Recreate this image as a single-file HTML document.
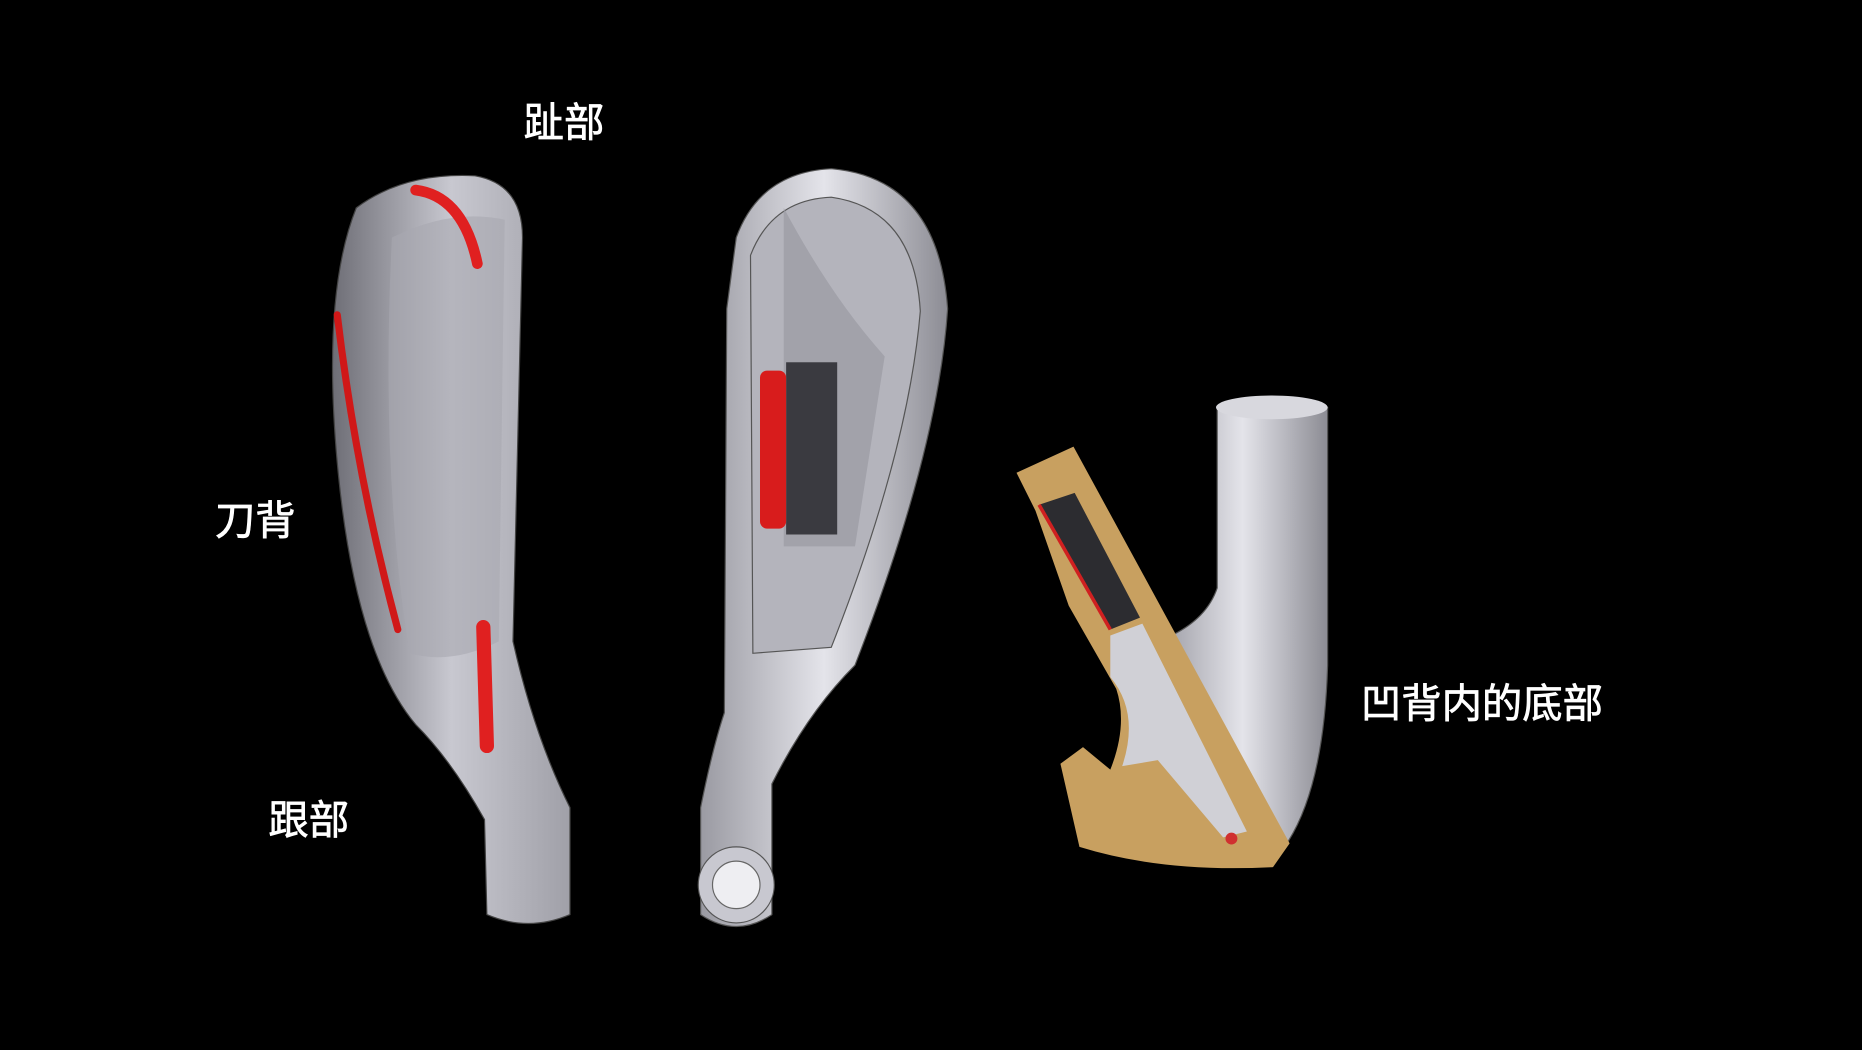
<!DOCTYPE html>
<html><head><meta charset="utf-8"><style>
html,body{margin:0;padding:0;background:#000;}
svg{display:block}
.t{font-family:"Liberation Sans","Noto Sans CJK SC",sans-serif;fill:#fff;font-size:34px;font-weight:normal;stroke:#fff;stroke-width:0.6px;}
</style></head><body>
<svg width="1862" height="1050" viewBox="0 0 1568 884" preserveAspectRatio="none">
<defs>
<linearGradient id="g1" x1="0" x2="1"><stop offset="0" stop-color="#6e6e76"/><stop offset=".5" stop-color="#c8c8d0"/><stop offset="1" stop-color="#a0a0a8"/></linearGradient>
<linearGradient id="g2" x1="0" x2="1"><stop offset="0" stop-color="#9a9aa2"/><stop offset=".5" stop-color="#e4e4ea"/><stop offset="1" stop-color="#8c8c94"/></linearGradient>
</defs>
<rect width="1568" height="884" fill="#000"/>
<path d="M300,175 Q340,145 400,148 Q440,155 440,200 L432,540 Q450,620 480,680 L480,770 Q445,785 410,770 L408,690 Q380,640 350,610 Q300,550 285,400 Q270,250 300,175 Z" fill="url(#g1)" stroke="#444" stroke-width="1"/>
<path d="M330,200 Q380,175 425,185 L420,540 Q380,560 345,550 Q320,400 330,200 Z" fill="#a8a8b0" opacity=".6"/>
<path d="M350,160 Q390,165 402,222" stroke="#e02020" stroke-width="9" fill="none" stroke-linecap="round"/>
<path d="M284,265 Q300,400 335,530" stroke="#d01818" stroke-width="6" fill="none" stroke-linecap="round"/>
<path d="M407,528 L410,628" stroke="#e02020" stroke-width="12" fill="none" stroke-linecap="round"/>
<path d="M620,200 Q640,145 700,142 Q790,150 798,260 Q790,380 720,560 Q680,600 650,660 L650,770 Q620,790 590,770 L590,680 Q600,630 610,600 L612,260 Z" fill="url(#g2)" stroke="#555"/>
<path d="M632,215 Q650,168 700,166 Q770,176 775,262 Q765,380 700,545 L634,550 Z" fill="#b4b4bc" stroke="#555"/>
<path d="M660,175 Q700,250 745,300 L720,460 L660,460 Z" fill="#9a9aa2" opacity=".7"/>
<rect x="662" y="305" width="43" height="145" fill="#3a3a40"/>
<rect x="640" y="312" width="22" height="133" rx="6" fill="#d81c1c"/>
<circle cx="620" cy="745" r="32" fill="#c8c8d0" stroke="#555"/>
<circle cx="620" cy="745" r="20" fill="#eeeef2" stroke="#666"/>
<path d="M975,540 Q1015,525 1025,495 L1025,345 Q1070,330 1118,343 L1118,560 Q1115,660 1085,708 L1060,700 Z" fill="url(#g2)" stroke="#555"/>
<ellipse cx="1071" cy="343" rx="47" ry="10" fill="#d8d8de"/>
<path d="M856,398 L904,376 L1086,710 L1072,730 Q980,735 909,713 L893,643 L912,629 L935,648 Q950,610 940,580 L900,510 L872,430 Z" fill="#c8a060"/>
<path d="M875,425 L905,415 L960,520 L935,530 Z" fill="#2c2c30"/>
<path d="M875,425 L935,530" stroke="#d02020" stroke-width="3"/>
<path d="M935,535 L962,525 L1050,700 L1030,705 L975,640 L945,645 Q960,600 935,570 Z" fill="#d0d0d6"/>
<circle cx="1037" cy="706" r="5" fill="#d03030"/>
<text class="t" x="441" y="115">趾部</text>
<text class="t" x="181" y="450">刀背</text>
<text class="t" x="226" y="702">跟部</text>
<text class="t" x="1146" y="604">凹背内的底部</text>
</svg>
</body></html>
